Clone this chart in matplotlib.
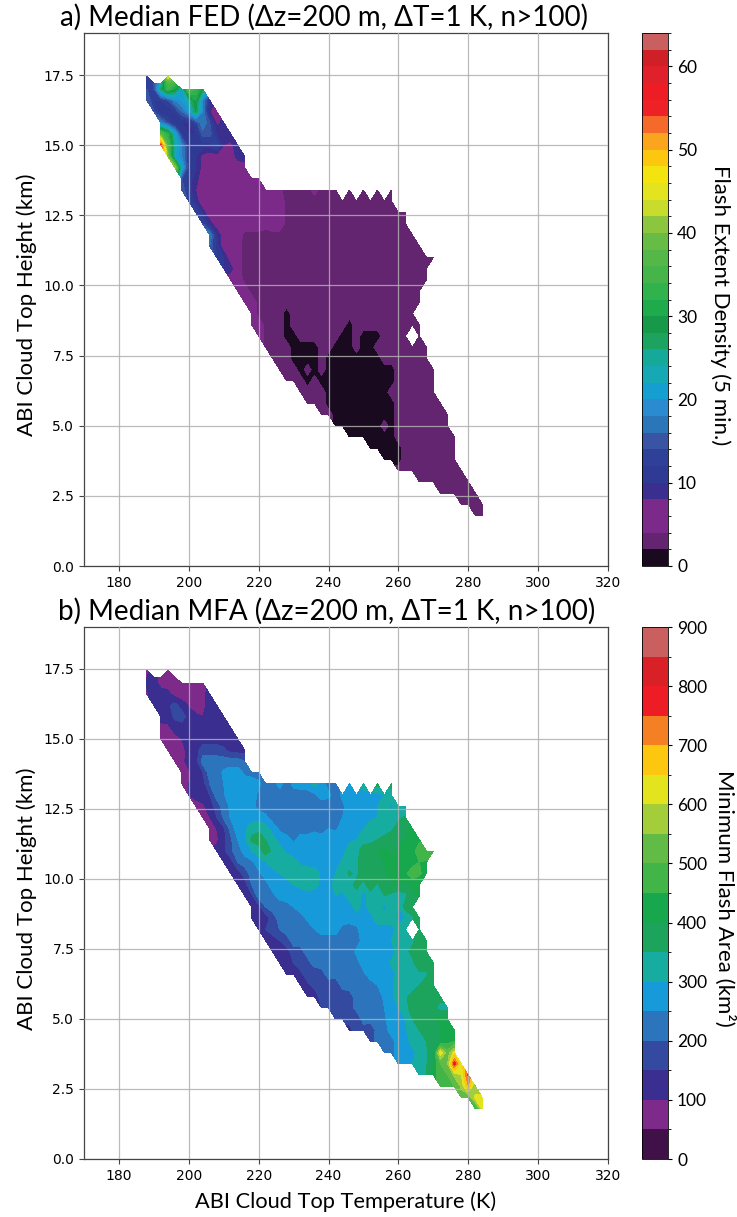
import numpy as np
import matplotlib
matplotlib.use('Agg')
import matplotlib.pyplot as plt
from matplotlib.colors import ListedColormap, BoundaryNorm

n = np.nan

# grid of the binned data, every row starts at its own temperature
t_cols = list(range(186, 286, 2))
z_rows = [1.8, 2.2, 2.6, 3.0, 3.4, 3.8, 4.2, 4.6, 5.0, 5.4, 5.8, 6.2, 6.6, 7.0, 7.4, 7.8, 8.2, 8.6, 9.0, 9.4,
          9.8, 10.2, 10.6, 11.0, 11.4, 11.8, 12.2, 12.6, 13.0, 13.4, 13.8, 14.2, 14.6, 15.0, 15.4, 15.8, 16.2,
          16.6, 17.0, 17.2, 17.45]
t_start = [282, 278, 272, 266, 260, 256, 252, 246, 242, 238, 234, 232, 228, 226, 224, 222, 220, 218, 218, 216,
           214, 212, 210, 208, 206, 206, 204, 202, 200, 198, 198, 196, 194, 192, 192, 192, 190,
           188, 188, 188, 188]

fed_rows = [
    [3, 3],
    [3, 3, 3, 3],
    [3, 3, 3, 3, 3, 3],
    [3, 3, 3, 3, 3, 3, 3, 3],
    [3, 3, 3, 3, 3, 3, 3, 3, 3, 3],
    [1, 1, 1, 3, 3, 3, 3, 3, 3, 3, 3],
    [1, 1, 1, 1, 1, 3, 3, 3, 3, 3, 3, 3, 3],
    [1, 1, 1, 1, 1, 1, 1, 3, 3, 3, 3, 3, 3, 3, 3, 3],
    [1, 1, 1, 1, 1, 1, 1, 3, 1, 3, 3, 3, 3, 3, 3, 3, 3],
    [3, 3, 1, 1, 1, 1, 1, 1, 1, 1, 1, 3, 3, 3, 3, 3, 3, 3, 3],
    [3, 3, 3, 1, 1, 1, 1, 1, 1, 1, 1, 1, 1, 3, 3, 3, 3, 3, 3, 3],
    [3, 3, 3, 3, 1, 1, 1, 1, 1, 1, 1, 1, 1, 3, 3, 3, 3, 3, 3, 3],
    [3, 3, 3, 1, 3, 1, 1, 1, 1, 1, 1, 1, 1, 1, 1, 1, 3, 3, 3, 3, 3, 3],
    [3, 3, 3, 1, 3, 1, 3, 1, 1, 1, 1, 1, 1, 1, 1, 1, 1, 3, 3, 3, 3, 3, 3],
    [3, 3, 3, 1, 1, 1, 1, 3, 1, 1, 1, 1, 1, 1, 1, 1, 3, 3, 3, 3, 3, 3, 3],
    [3, 3, 3, 3, 1, 1, 1, 1, 3, 3, 1, 1, 1, 3, 1, 1, 3, 3, 3, 3, 3, 3, 3, 3],
    [6, 3, 3, 3, 1, 1, 3, 3, 3, 3, 3, 3, 1, 1, 3, 1, 1, 1, 3, 3, 3, 3, n, 3],
    [6, 6, 3, 3, 3, 1, 3, 3, 3, 3, 3, 3, 3, 3, 1, 3, 3, 3, 3, 3, 3, 3, 3, 3, 3],
    [6, 3, 3, 3, 3, 1, 3, 3, 3, 3, 3, 3, 3, 3, 3, 3, 3, 3, 3, 3, 3, 3, 3, 3],
    [6, 6, 3, 3, 3, 3, 3, 3, 3, 3, 3, 3, 3, 3, 3, 3, 3, 3, 3, 3, 3, 3, 3, 3, 3, 3],
    [6, 6, 3, 3, 3, 3, 3, 3, 3, 3, 3, 3, 3, 3, 3, 3, 3, 3, 3, 3, 3, 3, 3, 3, 3, 3, 3],
    [6, 6, 3, 3, 3, 3, 3, 3, 3, 3, 3, 3, 3, 3, 3, 3, 3, 3, 3, 3, 3, 3, 3, 3, 3, 3, 3, 3, 3],
    [10, 9, 5, 3, 3, 3, 3, 3, 3, 3, 3, 3, 3, 3, 3, 3, 3, 3, 3, 3, 3, 3, 3, 3, 3, 3, 3, 3, 3, 3],
    [12, 10, 6, 5, 3, 3, 3, 3, 3, 3, 3, 3, 3, 3, 3, 3, 3, 3, 3, 3, 3, 3, 3, 3, 3, 3, 3, 3, 3, 3, 3, 3],
    [16, 11, 6, 6, 5, 3, 3, 3, 3, 3, 3, 3, 3, 3, 3, 3, 3, 3, 3, 3, 3, 3, 3, 3, 3, 3, 3, 3, 3, 3, 3],
    [18, 10, 6, 6, 6, 3, 3, 3, 3, 3, 3, 3, 3, 3, 3, 3, 3, 3, 3, 3, 3, 3, 3, 3, 3, 3, 3, 3, 3, 3],
    [14, 9, 6, 6, 6, 6, 6, 6, 6, 5, 6, 6, 3, 3, 3, 3, 3, 3, 3, 3, 3, 3, 3, 3, 3, 3, 3, 3, 3, 3],
    [14, 9, 6, 6, 6, 6, 6, 6, 6, 6, 6, 6, 6, 3, 3, 3, 3, 3, 3, 3, 3, 3, 3, 3, 3, 3, 3, 3, 3, 3, 3],
    [13, 9, 6, 6, 6, 6, 6, 6, 6, 6, 6, 6, 6, 6, 3, 3, 3, 3, 3, 3, 3, 3, 3, 3, 3, 3, 3, 3, 3, 3],
    [16, 11, 8, 6, 6, 6, 6, 6, 6, 6, 6, 6, 6, 6, 4.5, 3, 3, 3, 3, 5, 3, 3, 3, n, 3, n, 3, n, 3, n, 3],
    [14, 11, 9, 6, 6, 6, 6, 6, 6, 6, 6, 6],
    [42, 22, 12, 10, 7, 6, 6, 6, 6, 6, 6],
    [40, 22, 18, 12, 10, 7, 6, 6, 6, 6, 9, 10],
    [55, 36, 24, 18, 12, 11, 11, 11, 14, 8, 7, 10],
    [38, 32, 22, 12, 10, 10, 15, 15, 10, 9, 10],
    [18, 14, 10, 10, 10, 13, 18, 14, 7, 9],
    [14, 10, 10, 12, 16, 20, 28, 18, 8, 6],
    [16, 12, 12, 14, 18, 20, 24, 30, 18, 10],
    [14, 14, 26, 34, 30, 22, 38, 34, 28],
    [13, 14, 22, 36, 34],
    [12, n, n, 44],
]

mfa_rows = [
    [450, 620],
    [520, 500, 620, 620],
    [480, 480, 500, 560, 700, 540],
    [300, 350, 430, 470, 500, 560, 600, 760],
    [275, 275, 300, 325, 345, 400, 500, 540, 780, 620],
    [225, 225, 275, 275, 280, 325, 340, 390, 640, 520, 620],
    [170, 225, 225, 230, 275, 275, 320, 325, 350, 380, 400, 430, 450],
    [130, 175, 175, 150, 225, 225, 275, 275, 290, 340, 350, 375, 380, 400, 420, 440],
    [150, 170, 170, 150, 225, 225, 225, 240, 280, 275, 300, 350, 380, 390, 380, 420, 410],
    [150, 175, 170, 150, 170, 225, 225, 225, 225, 250, 280, 300, 330, 380, 395, 390, 380, 320, 330],
    [125, 125, 170, 175, 175, 150, 175, 225, 225, 225, 225, 260, 290, 320, 340, 370, 390, 380, 400, 375],
    [130, 140, 160, 170, 170, 150, 225, 225, 225, 225, 225, 250, 275, 290, 320, 330, 325, 350, 380, 400],
    [125, 125, 140, 170, 160, 175, 225, 225, 225, 225, 230, 240, 275, 275, 275, 275, 320, 300, 340, 340, 340, 400],
    [130, 125, 150, 170, 180, 225, 225, 225, 225, 225, 250, 230, 275, 275, 275, 275, 310, 325, 340, 340, 380, 385, 400],
    [130, 140, 130, 175, 180, 225, 225, 225, 225, 225, 225, 225, 260, 275, 275, 275, 275, 275, 320, 340, 360, 390, 370],
    [125, 125, 150, 175, 225, 225, 225, 225, 225, 225, 225, 225, 225, 225, 270, 260, 275, 275, 300, 320, 330, 340, 380, 385],
    [125, 150, 175, 200, 225, 225, 225, 225, 250, 275, 275, 275, 230, 225, 240, 275, 275, 280, 275, 275, 330, 320, n, 370],
    [125, 125, 125, 170, 225, 225, 225, 230, 260, 275, 275, 270, 280, 275, 275, 275, 280, 280, 325, 330, 330, 280, 300, 340, 400],
    [125, 130, 200, 225, 225, 230, 250, 275, 275, 275, 275, 275, 275, 280, 270, 325, 275, 325, 330, 280, 330, 300, 370, 380],
    [125, 140, 225, 225, 240, 265, 275, 275, 275, 275, 275, 275, 290, 300, 280, 330, 325, 280, 320, 330, 350, 340, 300, 340, 380, 410],
    [125, 130, 200, 225, 235, 270, 275, 280, 300, 315, 330, 320, 280, 280, 320, 330, 325, 370, 330, 390, 340, 400, 380, 420, 380, 420, 410],
    [125, 125, 170, 225, 240, 275, 275, 300, 320, 330, 330, 335, 325, 290, 275, 300, 320, 360, 335, 380, 360, 400, 390, 420, 410, 440, 480, 460, 420],
    [110, 125, 200, 225, 240, 275, 300, 330, 335, 330, 320, 290, 275, 275, 275, 275, 280, 310, 320, 340, 370, 400, 380, 400, 420, 440, 420, 430, 450, 440],
    [120, 140, 190, 225, 270, 300, 330, 375, 340, 320, 290, 275, 275, 275, 275, 275, 275, 275, 275, 330, 325, 390, 370, 400, 410, 380, 410, 420, 430, 480, 500, 490],
    [75, 90, 130, 190, 250, 290, 360, 370, 350, 320, 280, 270, 240, 275, 275, 275, 275, 280, 285, 300, 290, 300, 320, 340, 350, 370, 380, 390, 400, 420, 440],
    [75, 100, 140, 220, 275, 290, 330, 340, 320, 280, 240, 225, 225, 225, 225, 240, 225, 250, 240, 275, 280, 280, 300, 320, 340, 320, 340, 370, 390, 410],
    [75, 100, 150, 210, 255, 275, 275, 275, 280, 260, 225, 225, 225, 225, 225, 225, 225, 225, 225, 230, 250, 280, 275, 280, 290, 300, 330, 320, 340, 360],
    [70, 90, 125, 170, 225, 260, 275, 275, 270, 230, 225, 225, 225, 225, 225, 225, 225, 225, 225, 225, 225, 240, 270, 280, 280, 285, 300, 320, 290, 320, 280],
    [100, 125, 125, 150, 225, 245, 275, 275, 275, 275, 240, 225, 225, 225, 225, 225, 225, 225, 240, 270, 260, 230, 260, 275, 275, 275, 280, 280, 300, 320],
    [70, 100, 125, 125, 200, 225, 250, 275, 275, 275, 285, 260, 225, 225, 270, 225, 265, 275, 280, 320, 275, 230, 230, n, 280, n, 330, n, 370, n, 375],
    [80, 90, 125, 150, 225, 225, 260, 275, 275, 240, 225, 225],
    [75, 80, 125, 125, 225, 225, 225, 225, 225, 225, 200],
    [75, 75, 75, 125, 130, 175, 180, 175, 160, 130, 125, 125],
    [75, 75, 75, 100, 125, 125, 125, 125, 125, 125, 125, 125],
    [80, 85, 125, 125, 125, 125, 125, 125, 125, 125, 125],
    [125, 125, 160, 175, 130, 110, 100, 125, 125, 125],
    [125, 125, 140, 170, 125, 95, 75, 80, 125, 125],
    [90, 125, 125, 115, 80, 75, 75, 75, 80, 125],
    [110, 125, 80, 75, 75, 75, 75, 75, 75],
    [100, 125, 80, 75, 75],
    [90, n, n, 80],
]

fed_levels = list(range(0, 66, 2))
fed_ticks = [0, 10, 20, 30, 40, 50, 60]
fed_colors = ['#1a0a20', '#632570', '#7b2a8a', '#7b2a8a', '#3a2e8f', '#2e3a94', '#2f4099', '#3a54a4', '#2b75b9',
              '#2a8bd0', '#149fd0', '#17a8b5', '#15a99a', '#1ca35f', '#169a4a', '#1faa4b', '#30b24d', '#45b549',
              '#53b848', '#67bc45', '#8cc63f', '#c9dc2c', '#e3e41e', '#f3e30f', '#fdc60f', '#fba51f', '#f5692a',
              '#ee2127', '#ee1c25', '#e0202a', '#cf2027', '#c9605f']
mfa_levels = list(range(0, 950, 50))
mfa_ticks = [0, 100, 200, 300, 400, 500, 600, 700, 800, 900]
mfa_colors = ['#401048', '#7d2a8a', '#3a2e90', '#344aa0', '#2c75bd', '#169ada', '#17aca0', '#1ca35c', '#17a84d',
              '#42b549', '#62bb46', '#a3cd39', '#e3e41e', '#fdc60f', '#f58024', '#ee1c25', '#d92027', '#c9605f']


def to_grid(rows):
    grid = np.full((len(z_rows), len(t_cols)), np.nan)
    for i, row in enumerate(rows):
        j = t_cols.index(t_start[i])
        grid[i, j:j + len(row)] = row
    return grid


plt.rcParams['font.family'] = ['Lato', 'DejaVu Sans']

W, H = 737.0, 1217.0
fig = plt.figure(figsize=(W / 100, H / 100), dpi=100)


def panel(top, bottom, rows, levels, colors, ticks, title, cblabel, pad, title_x):
    ax = fig.add_axes([84 / W, 1 - bottom / H, 524 / W, (bottom - top) / H])
    cmap = ListedColormap(colors)
    norm = BoundaryNorm(levels, cmap.N)
    cs = ax.contourf(t_cols, z_rows, np.ma.masked_invalid(to_grid(rows)), levels=levels, cmap=cmap, norm=norm)
    ax.set_xlim(170, 320)
    ax.set_ylim(0, 19)
    ax.set_xticks(range(180, 340, 20))
    ax.set_yticks(np.arange(0, 19, 2.5))
    ax.grid(True, color='#b0b0b0', lw=0.9, alpha=0.85)
    ax.set_axisbelow(False)
    ax.tick_params(labelsize=10, length=3.5, width=0.8, color='#444444', labelfontfamily='DejaVu Sans')
    for sp in ax.spines.values():
        sp.set_color('#444444')
        sp.set_linewidth(0.9)
    ax.set_ylabel('ABI Cloud Top Height (km)', fontsize=16)
    ax.yaxis.set_label_coords(-0.09, 0.49)
    ax.set_title(title, fontsize=20, x=title_x, pad=5)

    cax = fig.add_axes([642 / W, 1 - bottom / H, 26 / W, (bottom - top) / H])
    cb = fig.colorbar(cs, cax=cax, ticks=ticks)
    cb.ax.tick_params(labelsize=12.5, length=3, width=0.8)
    cb.outline.set_linewidth(0.6)
    cb.dividers.set_visible(False)
    cb.set_label(cblabel, rotation=270, fontsize=16, labelpad=pad)
    cb.ax.yaxis.label.set_y(0.49)
    return ax


ax1 = panel(33, 566, fed_rows, fed_levels, fed_colors, fed_ticks,
            'a) Median FED (\u0394z=200 m, \u0394T=1 K, n>100)', 'Flash Extent Density (5 min.)', 24, 0.458)
ax2 = panel(627, 1159, mfa_rows, mfa_levels, mfa_colors, mfa_ticks,
            'b) Median MFA (\u0394z=200 m, \u0394T=1 K, n>100)', 'Minimum Flash Area (km\u00b2)', 20, 0.463)
ax2.set_xlabel('ABI Cloud Top Temperature (K)', fontsize=15.7, labelpad=6)

fig.savefig('out.png', dpi=100)
